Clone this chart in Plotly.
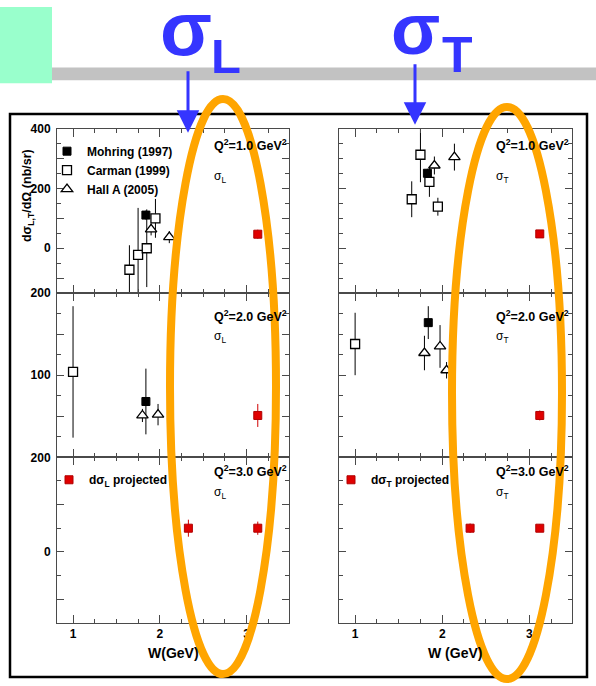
import plotly.graph_objects as go

# ---- data: differential cross sections (nb/sr) vs W (GeV) ----
# Q^2 = 1.0 GeV^2, sigma_L
mohring_L1_w = [1.84]
mohring_L1_v = [111]
mohring_L1_e = [15]
carman_L1_w = [1.65, 1.75, 1.85, 1.95]
carman_L1_v = [-72, -22, 0, 100]
carman_L1_e = [82, 157, 130, 65]
hallA_L1_w = [1.90, 2.11]
hallA_L1_v = [63, 37]
hallA_L1_e = [20, 20]
proj_L1_w = [3.13]
proj_L1_v = [47]
proj_L1_e = [15]

# Q^2 = 1.0 GeV^2, sigma_T
mohring_T1_w = [1.83]
mohring_T1_v = [251]
mohring_T1_e = [15]
carman_T1_w = [1.65, 1.75, 1.853, 1.95]
carman_T1_v = [164, 313, 222, 139]
carman_T1_e = [60, 92, 50, 30]
hallA_T1_w = [1.91, 2.14]
hallA_T1_v = [277, 305]
hallA_T1_e = [30, 45]
proj_T1_w = [3.12]
proj_T1_v = [48]
proj_T1_e = [10]

# Q^2 = 2.0 GeV^2, sigma_L
mohring_L2_w = [1.84]
mohring_L2_v = [68]
mohring_L2_e = [40]
carman_L2_w = [1.0]
carman_L2_v = [104]
carman_L2_e = [80]
hallA_L2_w = [1.80, 1.98]
hallA_L2_v = [51, 52]
hallA_L2_e = [8, 13]
proj_L2_w = [3.13]
proj_L2_v = [51]
proj_L2_e = [14]

# Q^2 = 2.0 GeV^2, sigma_T
mohring_T2_w = [1.84]
mohring_T2_v = [164]
mohring_T2_e = [20]
carman_T2_w = [1.0]
carman_T2_v = [138]
carman_T2_e = [38]
hallA_T2_w = [1.796, 1.975, 2.05]
hallA_T2_v = [127, 135, 106]
hallA_T2_e = [21, 26, 10]
proj_T2_w = [3.12]
proj_T2_v = [51]
proj_T2_e = [6]

# Q^2 = 3.0 GeV^2, projected only
proj_L3_w = [2.33, 3.13]
proj_L3_v = [50, 50]
proj_L3_e = [18, 14]
proj_T3_w = [2.32, 3.12]
proj_T3_v = [50, 50]
proj_T3_e = [10, 8]

q2_labels = ["Q<sup>2</sup>=1.0 GeV<sup>2</sup>",
             "Q<sup>2</sup>=2.0 GeV<sup>2</sup>",
             "Q<sup>2</sup>=3.0 GeV<sup>2</sup>"]
y_ranges = [[-150, 400], [0, 200], [-150, 200]]
y_tickvals = [[-100, 0, 100, 200, 300, 400], [50, 100, 150, 200], [-100, 0, 100, 200]]
y_ticktext = [["", "0", "", "200", "", "400"], ["", "100", "", "200"], ["", "0", "", "200"]]
y_minor = [50, 25, 50]
x_range = [0.815, 3.49]
x_tickvals = [1, 2, 3]

# ---- page geometry (pixels) ----
W, H = 596, 686
FONT = "Liberation Sans"


def fx(x):
    return x / W


def fy(y):
    return 1 - y / H


cols = [(57, 289), (339, 572)]
rows = [(123, 289), (289, 455), (455, 622)]

fig = go.Figure()

AX = "#4a4a4a"
layout_axes = {}
for r in range(3):
    for c in range(2):
        n = r * 2 + c + 1
        sfx = "" if n == 1 else str(n)
        layout_axes["xaxis" + sfx] = dict(
            domain=[fx(cols[c][0]), fx(cols[c][1])], anchor="y" + sfx,
            range=x_range, tickvals=x_tickvals,
            showticklabels=(r == 2), ticks="inside", ticklen=8, tickwidth=1,
            tickcolor=AX, showline=True, linecolor=AX, linewidth=1,
            mirror="allticks", showgrid=False, zeroline=False,
            tickfont=dict(family=FONT, size=12, color="black", weight="bold"),
            minor=dict(dtick=0.25, ticks="inside", ticklen=4, tickcolor=AX, showgrid=False),
        )
        layout_axes["yaxis" + sfx] = dict(
            domain=[fy(rows[r][1]), fy(rows[r][0])], anchor="x" + sfx,
            range=y_ranges[r], tickvals=y_tickvals[r], ticktext=y_ticktext[r],
            showticklabels=(c == 0), ticks="inside", ticklen=7, tickwidth=1,
            tickcolor=AX, showline=True, linecolor=AX, linewidth=1,
            mirror="allticks", showgrid=False, zeroline=False,
            ticklabelstandoff=3,
            tickfont=dict(family=FONT, size=12, color="black", weight="bold"),
            minor=dict(dtick=y_minor[r], ticks="inside", ticklen=4, tickcolor=AX, showgrid=False),
        )


def ax_ref(n):
    sfx = "" if n == 1 else str(n)
    return "x" + sfx, "y" + sfx


def add_series(n, w, v, e, kind, legend=None, name=None):
    xr, yr = ax_ref(n)
    if kind == "mohring":
        marker = dict(symbol="square", size=8, color="black", line=dict(color="black", width=1))
        ecol = "black"
    elif kind == "carman":
        marker = dict(symbol="square", size=9, color="white", line=dict(color="black", width=1.3))
        ecol = "black"
    elif kind == "hallA":
        marker = dict(symbol="triangle-up", size=10, color="white", line=dict(color="black", width=1.3))
        ecol = "black"
    else:
        marker = dict(symbol="square", size=8, color="#e00000", line=dict(color="#b00000", width=1))
        ecol = "#d00000"
    fig.add_trace(go.Scatter(
        x=w, y=v, mode="markers", marker=marker, xaxis=xr, yaxis=yr,
        error_y=dict(type="data", array=e, width=0, thickness=1, color=ecol),
        showlegend=legend is not None, legend=legend or "legend", name=name or kind,
        cliponaxis=True,
    ))


# top row
add_series(1, mohring_L1_w, mohring_L1_v, mohring_L1_e, "mohring", "legend", "Mohring (1997)")
add_series(1, carman_L1_w, carman_L1_v, carman_L1_e, "carman", "legend", "Carman (1999)")
add_series(1, hallA_L1_w, hallA_L1_v, hallA_L1_e, "hallA", "legend", "Hall A (2005)")
add_series(1, proj_L1_w, proj_L1_v, proj_L1_e, "proj")
add_series(2, carman_T1_w, carman_T1_v, carman_T1_e, "carman")
add_series(2, mohring_T1_w, mohring_T1_v, mohring_T1_e, "mohring")
add_series(2, hallA_T1_w, hallA_T1_v, hallA_T1_e, "hallA")
add_series(2, proj_T1_w, proj_T1_v, proj_T1_e, "proj")
# middle row
add_series(3, carman_L2_w, carman_L2_v, carman_L2_e, "carman")
add_series(3, mohring_L2_w, mohring_L2_v, mohring_L2_e, "mohring")
add_series(3, hallA_L2_w, hallA_L2_v, hallA_L2_e, "hallA")
add_series(3, proj_L2_w, proj_L2_v, proj_L2_e, "proj")
add_series(4, carman_T2_w, carman_T2_v, carman_T2_e, "carman")
add_series(4, mohring_T2_w, mohring_T2_v, mohring_T2_e, "mohring")
add_series(4, hallA_T2_w, hallA_T2_v, hallA_T2_e, "hallA")
add_series(4, proj_T2_w, proj_T2_v, proj_T2_e, "proj")
# bottom row
add_series(5, proj_L3_w, proj_L3_v, proj_L3_e, "proj", "legend2", "d\u03c3<sub>L</sub> projected")
add_series(6, proj_T3_w, proj_T3_v, proj_T3_e, "proj", "legend3", "d\u03c3<sub>T</sub> projected")

leg_font = dict(family=FONT, size=12, color="black", weight="bold")
legend_common = dict(bgcolor="rgba(0,0,0,0)", borderwidth=0, font=leg_font,
                     xanchor="left", yanchor="top", itemclick=False, itemdoubleclick=False)


def label(text, x, y, font, xanchor="center", yanchor="middle", **kw):
    return dict(text=text, x=fx(x), y=fy(y), xref="paper", yref="paper",
                xanchor=xanchor, yanchor=yanchor, showarrow=False, font=font, **kw)


annotations = []
txt_font = dict(family=FONT, size=12.5, color="black", weight="bold")
for r in range(3):
    for c in range(2):
        qx = 212 if c == 0 else 494
        qy = [139, 312, 469][r]
        sy = [172, 333, 491][r]
        annotations.append(label(q2_labels[r], qx, qy, txt_font, xanchor="left"))
        annotations.append(label("\u03c3<sub>" + ("L" if c == 0 else "T") + "</sub>", qx, sy,
                                 dict(family=FONT, size=12, color="black"), xanchor="left"))

# axis titles
annotations.append(label("d\u03c3<sub>L,T</sub>/d\u03a9 (nb/sr)", 28, 191,
                         dict(family=FONT, size=12.5, color="black", weight="bold"), textangle=-90))
annotations.append(label("W(GeV)", 173, 653, dict(family=FONT, size=14, color="black", weight="bold")))
annotations.append(label("W (GeV)", 455, 653, dict(family=FONT, size=14, color="black", weight="bold")))

# headline symbols
BLUE = "#3535ff"
annotations += [
    label("\u03c3", 185.5, 22, dict(family=FONT, size=76, color=BLUE, weight="bold")),
    label("L", 226, 49.5, dict(family=FONT, size=49, color=BLUE, weight="bold")),
    label("\u03c3", 415.5, 22, dict(family=FONT, size=72, color=BLUE, weight="bold")),
    label("T", 457.5, 49, dict(family=FONT, size=50, color=BLUE, weight="bold")),
]
# arrows
for xa, y0, y1 in [(188, 64, 127), (415, 57, 119)]:
    annotations.append(dict(text="", x=fx(xa), y=fy(y1), ax=0, ay=-(y1 - y0),
                            xref="paper", yref="paper",
                            showarrow=True, arrowhead=2, arrowsize=1.5, arrowwidth=3,
                            arrowcolor=BLUE, standoff=0, startstandoff=0))

shapes = [
    # mint block and grey rule
    dict(type="rect", xref="paper", yref="paper", x0=0, x1=fx(52), y0=fy(77), y1=1,
         fillcolor="#99ffcc", line=dict(width=0), layer="below"),
    dict(type="rect", xref="paper", yref="paper", x0=fx(52), x1=1, y0=fy(74), y1=fy(61),
         fillcolor="#c2c2c2", line=dict(width=0), layer="below"),
    # outer frame
    dict(type="rect", xref="paper", yref="paper", x0=fx(10), x1=fx(587), y0=fy(677), y1=fy(108),
         line=dict(color="black", width=2.5), layer="above"),
    # highlight ellipses
    dict(type="circle", xref="paper", yref="paper", x0=fx(170), x1=fx(276), y0=fy(674), y1=fy(93),
         line=dict(color="#ffa500", width=8), layer="above"),
    dict(type="circle", xref="paper", yref="paper", x0=fx(452), x1=fx(562), y0=fy(679), y1=fy(101),
         line=dict(color="#ffa500", width=8), layer="above"),
]

fig.update_layout(
    width=W, height=H, margin=dict(l=0, r=0, t=0, b=0),
    paper_bgcolor="white", plot_bgcolor="white",
    showlegend=True,
    legend=dict(x=fx(47), y=fy(131), **legend_common),
    legend2=dict(x=fx(49), y=fy(463), **legend_common),
    legend3=dict(x=fx(331), y=fy(463), **legend_common),
    annotations=annotations, shapes=shapes,
    **layout_axes,
)

fig.write_html("out.html")
